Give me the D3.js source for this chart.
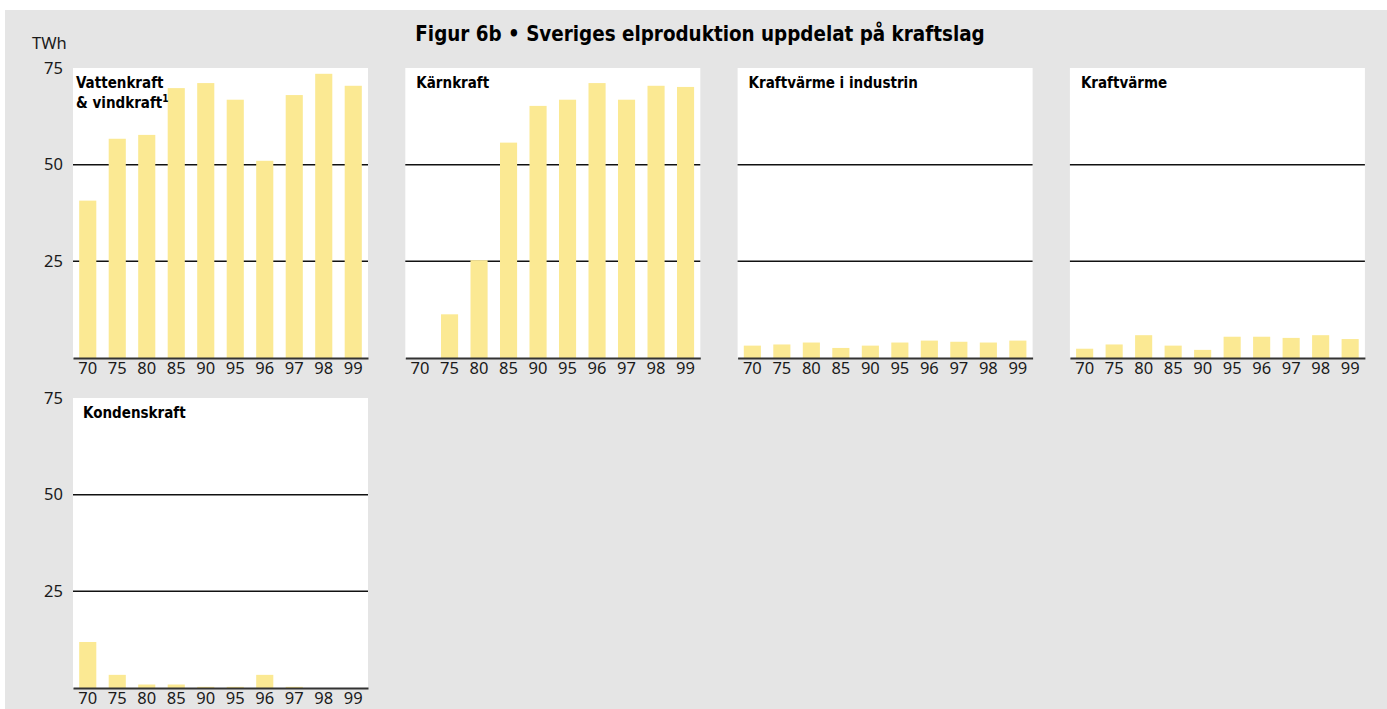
<!DOCTYPE html>
<html>
<head>
<meta charset="utf-8">
<script src="https://cdn.jsdelivr.net/npm/d3@7"></script>
<style>
  body { margin: 0; background: #fff; }
  svg { display: block; }
  .tick-label { font-family: "Noto Sans", sans-serif; font-size: 16.5px; fill: #1a1a1a; }
  .panel-title { font-family: "DejaVu Sans Condensed", "DejaVu Sans", sans-serif; font-weight: bold; font-size: 15px; fill: #000; }
  .main-title { font-family: "DejaVu Sans Condensed", "DejaVu Sans", sans-serif; font-weight: bold; font-size: 20.4px; fill: #000; }
</style>
</head>
<body>
<div id="chart"></div>
<script>
// Years on the x axis
const years = ["70", "75", "80", "85", "90", "95", "96", "97", "98", "99"];

// TWh per kraftslag
const vattenkraft = [40.7, 56.7, 57.7, 69.8, 71.1, 66.8, 51.0, 68.0, 73.5, 70.4];
const karnkraft = [0, 11.3, 25.3, 55.7, 65.2, 66.8, 71.1, 66.8, 70.4, 70.1];
const kraftvarmeIndustri = [3.2, 3.5, 4.0, 2.6, 3.2, 4.0, 4.5, 4.2, 4.0, 4.5];
const kraftvarme = [2.4, 3.5, 5.9, 3.2, 2.1, 5.5, 5.5, 5.2, 5.9, 4.9];
const kondenskraft = [11.9, 3.4, 0.9, 0.9, 0.3, 0.3, 3.4, 0.3, 0, 0];

const yTicks = [25, 50, 75];
const gridTicks = [25, 50];

const panels = [
    { title: ["Vattenkraft", "& vindkraft"], sup: "1", values: vattenkraft, tx: 3 },
    { title: ["Kärnkraft"], values: karnkraft, tx: 11 },
    { title: ["Kraftvärme i industrin"], values: kraftvarmeIndustri, tx: 11 },
    { title: ["Kraftvärme"], values: kraftvarme, tx: 11 },
    { title: ["Kondenskraft"], values: kondenskraft, tx: 10 }
];

// Layout
const width = 1387;
const height = 709;
const panelWidth = 295;
const panelHeight = 290;
const colStep = 332.3;
const rowStep = 330;
const left0 = 73;
const top0 = 68;

const svg = d3.select("#chart").append("svg")
    .attr("width", width)
    .attr("height", height);

// Grey backdrop
svg.append("rect")
    .attr("x", 5)
    .attr("y", 10)
    .attr("width", width - 5)
    .attr("height", height - 10)
    .attr("fill", "#e5e5e5");

svg.append("text")
    .attr("class", "main-title")
    .attr("x", 700)
    .attr("y", 41)
    .attr("text-anchor", "middle")
    .text("Figur 6b • Sveriges elproduktion uppdelat på kraftslag");

svg.append("text")
    .attr("class", "tick-label")
    .attr("x", 32)
    .attr("y", 49)
    .text("TWh");

const x = d3.scaleBand()
    .domain(years)
    .range([0, panelWidth])
    .paddingInner(0.42)
    .paddingOuter(0.21);

const y = d3.scaleLinear()
    .domain([0, 75])
    .range([panelHeight, 0]);

panels.forEach((p, i) => {
    const col = i % 4;
    const row = Math.floor(i / 4);
    const g = svg.append("g")
        .attr("transform", `translate(${left0 + col * colStep},${top0 + row * rowStep})`);

    g.append("rect")
        .attr("width", panelWidth)
        .attr("height", panelHeight)
        .attr("fill", "#fff");

    // Gridlines at 25 and 50
    g.append("g")
        .selectAll("line")
        .data(gridTicks)
        .join("line")
        .attr("x1", 0)
        .attr("x2", panelWidth)
        .attr("y1", d => y(d))
        .attr("y2", d => y(d))
        .attr("stroke", "#111")
        .attr("stroke-width", 1.5);

    // Bars
    g.append("g")
        .attr("fill", "#fbe993")
        .selectAll("rect")
        .data(p.values)
        .join("rect")
        .attr("x", (d, j) => x(years[j]))
        .attr("y", d => y(d))
        .attr("width", x.bandwidth())
        .attr("height", d => y(0) - y(d));

    // Bottom axis
    g.append("g")
        .attr("transform", `translate(0,${panelHeight})`)
        .call(d3.axisBottom(x).tickSize(0).tickPadding(4))
        .call(a => a.select(".domain").attr("stroke", "#333").attr("stroke-width", 2))
        .call(a => a.selectAll("text").attr("class", "tick-label").attr("dy", "0.72em").attr("font-size", null).attr("font-family", null).attr("fill", null));

    // Left tick labels on the first column
    if (col === 0) {
        g.append("g")
            .call(d3.axisLeft(y).tickValues(yTicks).tickSize(0).tickPadding(10))
            .call(a => a.select(".domain").remove())
            .call(a => a.selectAll("text").attr("class", "tick-label").attr("font-size", null).attr("font-family", null).attr("fill", null));
    }

    // Panel title
    const t = g.append("text")
        .attr("class", "panel-title")
        .attr("x", p.tx)
        .attr("y", 20);
    p.title.forEach((line, k) => {
        t.append("tspan")
            .attr("x", p.tx)
            .attr("dy", k === 0 ? 0 : 20)
            .text(line);
    });
    if (p.sup) {
        t.append("tspan")
            .attr("font-size", 10)
            .attr("dy", -6)
            .text(p.sup);
    }
});
</script>
</body>
</html>
